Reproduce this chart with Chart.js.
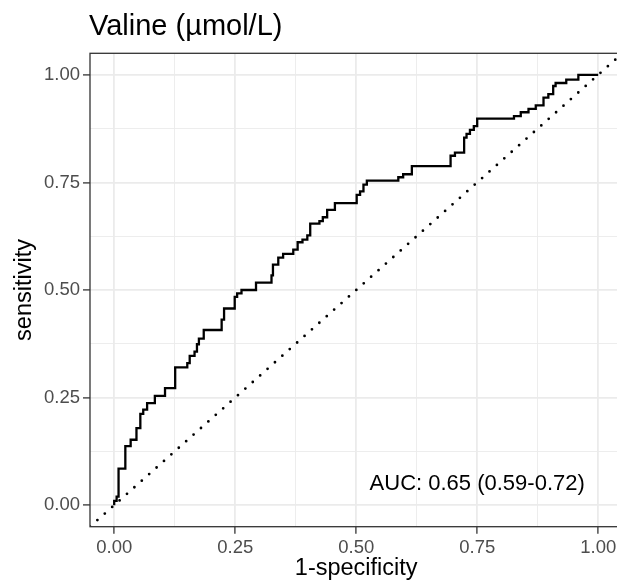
<!DOCTYPE html>
<html lang="en">
<head>
<meta charset="UTF-8">
<title>Valine ROC</title>
<script src="https://cdn.jsdelivr.net/npm/chart.js"></script>
<style>
  html, body { margin: 0; padding: 0; background: #fff; overflow: hidden; }
  canvas { display: block; }
</style>
</head>
<body>
<canvas id="roc" width="625" height="583"></canvas>
<script>
// ROC curve corners (top of each rise)
const fpr = [0, 0, 0.005, 0.009, 0.023, 0.034, 0.046, 0.054, 0.060, 0.068, 0.084, 0.105,
  0.126, 0.151, 0.156, 0.166, 0.171, 0.175, 0.185, 0.222, 0.227, 0.249, 0.254, 0.263,
  0.293, 0.325, 0.328, 0.339, 0.349, 0.370, 0.379, 0.389, 0.399, 0.405, 0.424, 0.431,
  0.440, 0.456, 0.501, 0.508, 0.515, 0.522, 0.587, 0.597, 0.615, 0.695, 0.704, 0.723,
  0.728, 0.735, 0.743, 0.750, 0.826, 0.840, 0.856, 0.871, 0.887, 0.897, 0.907, 0.912,
  0.934, 0.959, 1.0];
const tpr = [0, 0.01, 0.02, 0.085, 0.137, 0.152, 0.179, 0.212, 0.222, 0.237, 0.254, 0.272,
  0.320, 0.330, 0.347, 0.357, 0.374, 0.387, 0.407, 0.431, 0.457, 0.484, 0.492, 0.500,
  0.517, 0.534, 0.559, 0.575, 0.584, 0.594, 0.611, 0.617, 0.627, 0.654, 0.660, 0.669,
  0.686, 0.702, 0.721, 0.729, 0.745, 0.754, 0.762, 0.769, 0.788, 0.812, 0.819, 0.854,
  0.863, 0.872, 0.881, 0.898, 0.904, 0.913, 0.921, 0.929, 0.947, 0.955, 0.974, 0.981,
  0.989, 1.0, 1.0];

// chance line y = x across the whole panel
const diagX = [-0.05, 1.05];
const diagY = [-0.05, 1.05];

const majorTicks = [0, 0.25, 0.5, 0.75, 1];
const minorTicks = [0.125, 0.375, 0.625, 0.875];
const tickLabels = ['0.00', '0.25', '0.50', '0.75', '1.00'];
const allTicks = [...majorTicks, ...minorTicks].sort((a, b) => a - b);

const titleText = 'Valine (\u00b5mol/L)';
const aucText = 'AUC: 0.65 (0.59-0.72)';
const aucX = 0.75, aucY = 0.05;

const FONT = '"Liberation Sans", Arial, sans-serif';

const isMajor = v => majorTicks.includes(v);

function axisOpts(title, extra) {
  return Object.assign({
    type: 'linear',
    min: -0.05,
    max: 1.05,
    afterBuildTicks: s => { s.ticks = allTicks.map(v => ({ value: v })); },
    ticks: {
      autoSkip: false,
      maxRotation: 0,
      color: '#4D4D4D',
      font: { family: FONT, size: 18.5 },
      callback: v => { const i = majorTicks.indexOf(v); return i >= 0 ? tickLabels[i] : ''; }
    },
    grid: {
      color: '#EBEBEB',
      lineWidth: c => isMajor(c.tick.value) ? 1.8 : 0.9,
      tickColor: c => isMajor(c.tick.value) ? '#333333' : 'rgba(0,0,0,0)',
      tickWidth: 1.3,
      tickLength: 7
    },
    border: { display: false },
    title: { display: true, text: title, color: '#000', font: { family: FONT, size: 23.5 } }
  }, extra);
}

// title, AUC label and panel border
const decor = {
  id: 'decor',
  afterDatasetsDraw(chart) {
    const { ctx, chartArea: a, scales } = chart;
    ctx.save();
    ctx.strokeStyle = '#333333';
    ctx.lineWidth = 1.3;
    ctx.strokeRect(a.left, a.top, a.right - a.left, a.bottom - a.top);
    ctx.fillStyle = '#000';
    ctx.font = '22px ' + FONT;
    ctx.textAlign = 'center';
    ctx.textBaseline = 'middle';
    ctx.fillText(aucText, scales.x.getPixelForValue(aucX), scales.y.getPixelForValue(aucY));
    ctx.font = '29px ' + FONT;
    ctx.textAlign = 'left';
    ctx.textBaseline = 'alphabetic';
    ctx.fillText(titleText, a.left - 1, 35);
    ctx.restore();
  }
};

new Chart(document.getElementById('roc'), {
  type: 'scatter',
  data: {
    datasets: [
      {
        data: fpr.map((x, i) => ({ x, y: tpr[i] })),
        showLine: true,
        stepped: 'before',
        borderColor: '#000',
        borderWidth: 2.3,
        pointRadius: 0,
        fill: false
      },
      {
        data: diagX.map((x, i) => ({ x, y: diagY[i] })),
        showLine: true,
        borderColor: '#000',
        borderWidth: 2.8,
        borderDash: [0, 9.9],
        borderCapStyle: 'round',
        pointRadius: 0,
        fill: false
      }
    ]
  },
  options: {
    responsive: false,
    animation: false,
    layout: { padding: { top: 53.3, right: 2.6, left: 0, bottom: 0 } },
    plugins: { legend: { display: false }, tooltip: { enabled: false } },
    scales: {
      x: axisOpts('1-specificity', {
        afterFit: s => { s.height = 56.3; },
        title: { display: true, text: '1-specificity', color: '#000',
          font: { family: FONT, size: 23.5 }, padding: { top: 0, bottom: 0.5 } }
      }),
      y: axisOpts('sensitivity', {
        afterFit: s => { s.width = 90; },
        title: { display: true, text: 'sensitivity', color: '#000',
          font: { family: FONT, size: 23.5 }, padding: { top: 10.1, bottom: 0 } }
      })
    }
  },
  plugins: [decor]
});
</script>
</body>
</html>
